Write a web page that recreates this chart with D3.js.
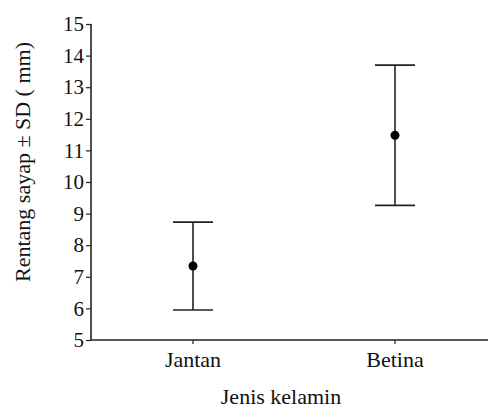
<!DOCTYPE html>
<html>
<head>
<meta charset="utf-8">
<script src="https://cdn.jsdelivr.net/npm/d3@7"></script>
<style>
  svg text { font-family: "Liberation Serif", "Times New Roman", Times, serif !important; }
</style>
</head>
<body style="margin:0;background:#fff">
<svg id="chart" width="489" height="409" style="display:block"></svg>
<script>
// Wing span (mm) by sex: mean and standard deviation
const categories = ["Jantan", "Betina"];
const means = [7.34, 11.48];
const sds = [1.39, 2.22];
const yTicks = [5, 6, 7, 8, 9, 10, 11, 12, 13, 14, 15];

const FONT = "'Liberation Serif', 'Times New Roman', Times, serif";
const svg = d3.select("#chart");
const W = 489, H = 409;
const margin = { top: 24, right: 1, bottom: 69, left: 91 };

const y = d3.scaleLinear()
  .domain([5, 15])
  .range([H - margin.bottom, margin.top]);

// categories sit at fixed positions along the horizontal axis
const x = d3.scalePoint()
  .domain(categories)
  .range([193, 395]);

const axisColor = "#222";

function serif(sel) {
  return sel.attr("font-family", FONT).style("font-family", FONT, "important");
}

// Y axis
const yAxis = svg.append("g")
  .attr("transform", `translate(${margin.left},0)`)
  .call(d3.axisLeft(y).tickValues(yTicks).tickSize(5).tickPadding(2).tickFormat(d3.format("d")));
serif(yAxis);
yAxis.select(".domain").attr("stroke", axisColor).attr("stroke-width", 1.6).attr("d", `M0,${y(5)}V${y(15)}`);
yAxis.selectAll(".tick line").attr("stroke", axisColor).attr("stroke-width", 1.2);
serif(yAxis.selectAll(".tick text"))
  .attr("font-size", 21)
  .attr("fill", "#111");

// X axis
const xAxisG = svg.append("g")
  .attr("transform", `translate(0,${y(5)})`);
xAxisG.append("line")
  .attr("x1", margin.left).attr("x2", W - margin.right)
  .attr("stroke", axisColor).attr("stroke-width", 1.6);
const xt = xAxisG.selectAll("g.xtick").data(categories).join("g")
  .attr("class", "xtick")
  .attr("transform", d => `translate(${x(d)},0)`);
xt.append("line").attr("y2", 4).attr("stroke", axisColor).attr("stroke-width", 1.2);
serif(xt.append("text"))
  .attr("y", 27)
  .attr("text-anchor", "middle")
  .attr("font-size", 22)
  .attr("fill", "#111")
  .text(d => d);

// Axis titles
serif(svg.append("text"))
  .attr("x", 281).attr("y", 404)
  .attr("text-anchor", "middle")
  .attr("font-size", 22)
  .attr("fill", "#111")
  .text("Jenis kelamin");

serif(svg.append("text"))
  .attr("transform", `translate(30,162) rotate(-90)`)
  .attr("text-anchor", "middle")
  .attr("font-size", 22)
  .attr("fill", "#111")
  .text("Rentang sayap ± SD ( mm)");

// Error bars and means
const capHalf = 20;
const g = svg.append("g");
categories.forEach((c, i) => {
  const cx = x(c);
  const lo = means[i] - sds[i], hi = means[i] + sds[i];
  g.append("line").attr("x1", cx).attr("x2", cx).attr("y1", y(lo)).attr("y2", y(hi))
    .attr("stroke", axisColor).attr("stroke-width", 1.6);
  [lo, hi].forEach(v => {
    g.append("line").attr("x1", cx - capHalf).attr("x2", cx + capHalf)
      .attr("y1", y(v)).attr("y2", y(v))
      .attr("stroke", axisColor).attr("stroke-width", 1.6);
  });
  g.append("circle").attr("cx", cx).attr("cy", y(means[i])).attr("r", 4.5).attr("fill", "#000");
});
</script>
</body>
</html>
